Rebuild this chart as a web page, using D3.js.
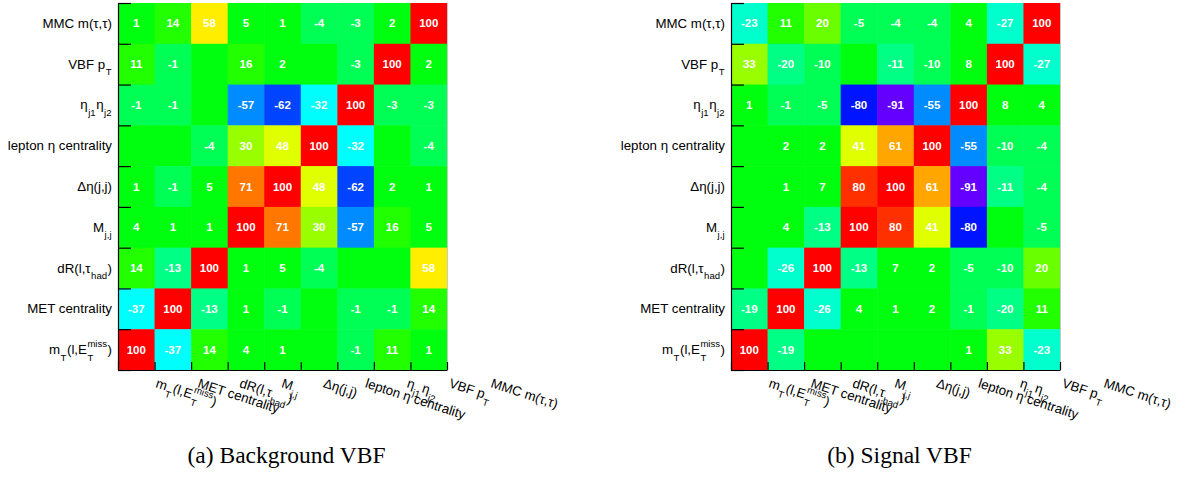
<!DOCTYPE html>
<html><head><meta charset="utf-8">
<script src="https://cdn.jsdelivr.net/npm/d3@7"></script>
<style>body{margin:0;background:#fff;}svg{display:block;}</style>
</head><body>
<script>
// ---- data ----
// variables along the axes (x: left->right, y: bottom->top)
const variableLabels = [
  [{t:"m"},{sub:"T"},{t:"(l,E"},{sup:"miss",sub:"T"},{t:")"}],
  [{t:"MET centrality"}],
  [{t:"dR(l,τ"},{sub:"had"},{t:")"}],
  [{t:"M"},{sub:"j,j"}],
  [{t:"Δη(j,j)"}],
  [{t:"lepton η centrality"}],
  [{t:"η"},{sub:"j1"},{t:"η"},{sub:"j2"}],
  [{t:"VBF p"},{sub:"T"}],
  [{t:"MMC m(τ,τ)"}]
];
// correlation matrices in %, rows listed from top (MMC) to bottom (m_T)
const backgroundVBF = [
  [1,14,58,5,1,-4,-3,2,100],
  [11,-1,0,16,2,0,-3,100,2],
  [-1,-1,0,-57,-62,-32,100,-3,-3],
  [0,0,-4,30,48,100,-32,0,-4],
  [1,-1,5,71,100,48,-62,2,1],
  [4,1,1,100,71,30,-57,16,5],
  [14,-13,100,1,5,-4,0,0,58],
  [-37,100,-13,1,-1,0,-1,-1,14],
  [100,-37,14,4,1,0,-1,11,1]
];
const signalVBF = [
  [-23,11,20,-5,-4,-4,4,-27,100],
  [33,-20,-10,0,-11,-10,8,100,-27],
  [1,-1,-5,-80,-91,-55,100,8,4],
  [0,2,2,41,61,100,-55,-10,-4],
  [0,1,7,80,100,61,-91,-11,-4],
  [0,4,-13,100,80,41,-80,0,-5],
  [0,-26,100,-13,7,2,-5,-10,20],
  [-19,100,-26,4,1,2,-1,-20,11],
  [100,-19,0,0,0,0,1,33,-23]
];
const panelTitles = ["(a) Background VBF", "(b) Signal VBF"];
const zRange = [-100, 100];

// ---- ROOT-like "pretty" palette (50 colours, 20 contour levels) ----
const nColors = 50, nLevels = 20;
const palette = d3.range(nColors).map(i => i === nColors - 1 ? "#ff0000"
  : d3.hsl(280 - (i + 1) * 280 / nColors, 1, 0.5).formatHex());
const levelColors = d3.range(nLevels).map(k =>
  palette[Math.min(nColors - 1, Math.floor((k + 0.99) * nColors / nLevels))]);
const color = d3.scaleQuantize().domain(zRange).range(levelColors);

const W = 1198, H = 478;
const svg = d3.select("body").append("svg").attr("width", W).attr("height", H);

const FONT = "'Liberation Sans', Arial, Helvetica, sans-serif";

function richText(g, parts, size) {
  let x = 0;
  const small = size * 0.72;
  parts.forEach(p => {
    if (p.t !== undefined) {
      const t = g.append("text").attr("x", x).attr("y", 0)
        .attr("font-size", size).text(p.t);
      x += t.node().getComputedTextLength();
    } else {
      let w = 0;
      if (p.sup !== undefined) {
        const t = g.append("text").attr("x", x + 0.5).attr("y", -size * 0.5)
          .attr("font-size", small).text(p.sup);
        w = Math.max(w, t.node().getComputedTextLength());
      }
      if (p.sub !== undefined) {
        const t = g.append("text").attr("x", x + 0.5).attr("y", size * 0.48)
          .attr("font-size", small).text(p.sub);
        w = Math.max(w, t.node().getComputedTextLength());
      }
      x += w + 1;
    }
  });
  return x;
}

function drawPanel(matrix, x0, title) {
  const n = variableLabels.length;
  const pw = 329, top = 3, bottom = 370;
  const x = d3.scaleBand().domain(d3.range(n)).range([x0, x0 + pw]);
  const y = d3.scaleBand().domain(d3.range(n)).range([bottom, top]);
  const xl = d3.scaleLinear().domain([0, n]).range([x0, x0 + pw]);
  const yl = d3.scaleLinear().domain([0, n]).range([bottom, top]);
  const g = svg.append("g");

  const cells = [];
  matrix.forEach((row, r) => row.forEach((v, c) => cells.push({v, xi: c, yi: n - 1 - r})));

  g.selectAll("rect.cell").data(cells).join("rect")
    .attr("class", "cell")
    .attr("x", d => x(d.xi)).attr("y", d => y(d.yi))
    .attr("width", x.bandwidth() + 0.5).attr("height", y.bandwidth() + 0.5)
    .attr("fill", d => color(d.v));

  g.selectAll("text.val").data(cells.filter(d => d.v !== 0)).join("text")
    .attr("class", "val")
    .attr("x", d => x(d.xi) + x.bandwidth() / 2)
    .attr("y", d => y(d.yi) + y.bandwidth() / 2)
    .attr("text-anchor", "middle").attr("dominant-baseline", "central")
    .attr("fill", "#fff").attr("font-family", FONT).attr("font-weight", "bold")
    .attr("font-size", 11.5)
    .text(d => d.v);

  // light right frame edge
  g.append("line").attr("x1", x0 + pw + 0.5).attr("x2", x0 + pw + 0.5)
    .attr("y1", top).attr("y2", bottom).attr("stroke", "#c8c8c8").attr("stroke-width", 1);

  // axes with ticks at bin edges
  const ax = g.append("g").attr("transform", `translate(0,${bottom})`)
    .call(d3.axisBottom(xl).tickValues(d3.range(n + 1)).tickSizeInner(-8).tickSizeOuter(0).tickFormat(""));
  const ay = g.append("g").attr("transform", `translate(${x0},0)`)
    .call(d3.axisLeft(yl).tickValues(d3.range(n + 1)).tickSizeInner(-13).tickSizeOuter(0).tickFormat(""));
  [ax, ay].forEach(a => { a.selectAll("path,line").attr("stroke", "#000").attr("stroke-width", 1.2); });

  // y labels (right aligned)
  variableLabels.forEach((parts, i) => {
    const lg = g.append("g").attr("font-family", FONT).attr("fill", "#000");
    const w = richText(lg, parts, 13.3);
    lg.attr("transform", `translate(${x0 - 6 - w},${y(i) + y.bandwidth() / 2 + 4.5})`);
  });

  // x labels (rotated)
  const lx = d3.scaleLinear().domain([0, n - 1]).range([x0 + 37, x0 + 372]);
  variableLabels.forEach((parts, i) => {
    const lg = g.append("g").attr("font-family", FONT).attr("fill", "#000");
    richText(lg, parts, 13.3);
    lg.attr("transform", `translate(${lx(i)},387) rotate(18)`);
  });

  svg.append("text").attr("x", x0 + pw / 2 + 4).attr("y", 463)
    .attr("text-anchor", "middle").attr("font-family", "'Liberation Serif', 'Times New Roman', serif")
    .attr("font-size", 23.5).attr("fill", "#000").text(title);
}

drawPanel(backgroundVBF, 118, panelTitles[0]);
drawPanel(signalVBF, 731, panelTitles[1]);
</script>
</body></html>
